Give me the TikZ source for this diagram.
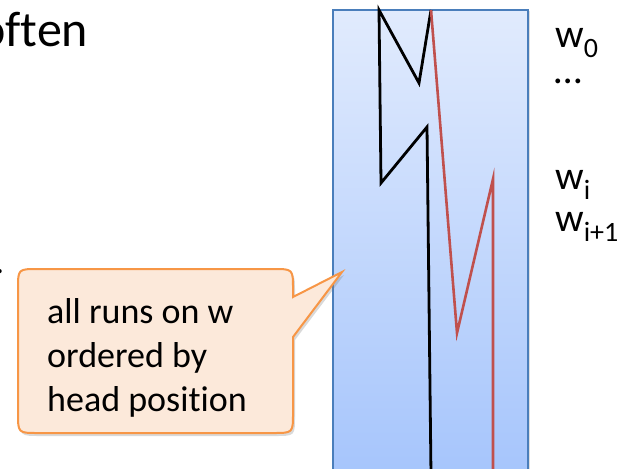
\documentclass[tikz,border=0pt]{standalone}
\usepackage{fontspec}
\setmainfont{Carlito}[Ligatures=NoCommon]
\usetikzlibrary{shadows}
\definecolor{boxborder}{RGB}{74,126,187}
\definecolor{boxtop}{RGB}{225,235,253}
\definecolor{boxbot}{RGB}{166,197,252}
\definecolor{runred}{RGB}{192,80,77}
\definecolor{calloutfill}{RGB}{252,233,218}
\definecolor{calloutdraw}{RGB}{247,150,70}
\tikzset{
  bigtext/.style={inner sep=0pt, font=\fontsize{50}{60}\selectfont, anchor=base west},
  labtext/.style={inner sep=0pt, font=\fontsize{40}{48}\selectfont, anchor=base west},
  calltext/.style={inner sep=0pt, font=\fontsize{36}{44}\selectfont, anchor=base west},
  blackrun/.style={draw=black, line width=2.8pt, line join=miter},
  redrun/.style={draw=runred, line width=2.6pt, line join=miter},
}
\begin{document}
\begin{tikzpicture}[x=1pt,y=-1pt]
\useasboundingbox (0,0) rectangle (636,468);
% partial text at left edge
\node[bigtext] (often) at (-21,47) {often};
\node[calltext] (dot) at (-5,273) {.};
% tape box
\shade[top color=boxtop, bottom color=boxbot, drop shadow={opacity=0.25, shadow xshift=1.5pt, shadow yshift=-1.5pt}] (333,10) rectangle (528,475);
\draw[boxborder, line width=2pt] (333,480) -- (333,10) -- (528,10) -- (528,480);
% coordinates of runs
\coordinate (b0) at (431,10);
\coordinate (b1) at (419,83);
\coordinate (b2) at (379,10);
\coordinate (b3) at (381,183);
\coordinate (b4) at (427,127);
\coordinate (b5) at (431,475);
\coordinate (r1) at (457,333);
\coordinate (r2) at (493,179);
\coordinate (r3) at (493,475);
\draw[blackrun] (b0) -- (b1) -- (b2) -- (b3) -- (b4) -- (b5);
\draw[redrun] (b0) -- (r1) -- (r2) -- (r3);
% labels
\node[labtext] (w0) at (555,48) {w\textsubscript{0}};
\node[labtext] (dots) at (554,84) {…};
\node[labtext] (wi) at (555,189) {w\textsubscript{i}};
\node[labtext] (wi1) at (555,231) {w\textsubscript{i+1}};
% callout
\coordinate (tip) at (342,272);
\path[fill=calloutfill, draw=calloutdraw, line width=2pt, line join=miter,
  drop shadow={opacity=0.3, shadow xshift=2pt, shadow yshift=-3pt}]
  (38,269) -- (273,269) .. controls (293,269) .. (293,289) -- (293,297) -- (tip) -- (293,337)
  -- (293,413) .. controls (293,433) .. (273,433) -- (38,433) .. controls (18,433) .. (18,413)
  -- (18,289) .. controls (18,269) .. (38,269) -- cycle;
\node[calltext] (l1) at (47,323) {all runs on w};
\node[calltext] (l2) at (47,367) {ordered by};
\node[calltext] (l3) at (47,411) {head position};
\end{tikzpicture}
\end{document}
